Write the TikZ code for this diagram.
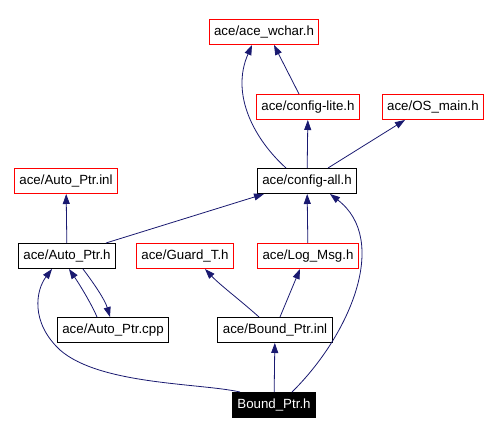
\documentclass[tikz,border=0pt]{standalone}
\usepackage{fontspec}
\setmainfont{Liberation Sans}
\usetikzlibrary{arrows.meta, positioning, calc}
\definecolor{dxred}{HTML}{FF0000}
\definecolor{dxnavy}{HTML}{191970}

\begin{document}
\begin{tikzpicture}[
  x=1pt, y=-1pt,
  every node/.style={font=\fontsize{13.3}{15}\selectfont},
  file/.style={rectangle, draw, line width=1pt, minimum height=25pt, inner xsep=5pt, inner ysep=0pt, align=center},
  ext/.style={file, draw=dxred},
  self/.style={file, fill=black, text=white},
  inc/.style={draw=dxnavy, line width=0.8pt, -{Triangle[length=10pt, width=7pt, fill=dxnavy]}},
]
\useasboundingbox (0,0) rectangle (490,435);

\node[ext] (wchar) at (264, 32) {ace/ace\_wchar.h};
\node[ext] (lite) at (308, 107) {ace/config-lite.h};
\node[ext] (osmain) at (433, 107) {ace/OS\_main.h};
\node[ext] (apinl) at (66, 181) {ace/Auto\_Ptr.inl};
\node[file] (all) at (307, 181) {ace/config-all.h};
\node[file] (aph) at (67, 256) {ace/Auto\_Ptr.h};
\node[ext] (guard) at (185, 256) {ace/Guard\_T.h};
\node[ext] (logmsg) at (308, 256) {ace/Log\_Msg.h};
\node[file] (apcpp) at (113, 330) {ace/Auto\_Ptr.cpp};
\node[file] (bpinl) at (275, 330) {ace/Bound\_Ptr.inl};
\node[self] (bph) at (274, 405) {Bound\_Ptr.h};

% Includes
\draw[inc] ([xshift=-21pt]all.north) .. controls (255,140) and (230,95) .. ([xshift=-12pt]wchar.south);
\draw[inc] ([xshift=-9pt]lite.north) -- ([xshift=10pt]wchar.south);
\draw[inc] (all) -- (lite);
\draw[inc] ([xshift=21pt]all.north) -- ([xshift=-28pt]osmain.south);
\draw[inc] (aph) -- (apinl);
\draw[inc] ([xshift=39pt]aph.north) -- ([xshift=-43pt]all.south);
\draw[inc] (logmsg) -- (all);
\draw[inc] ([xshift=18pt]bph.north) .. controls (350,335) and (390,240) .. ([xshift=23pt]all.south);
\draw[inc] ([xshift=-16pt]apcpp.north) .. controls (92,305) and (80,285) .. ([xshift=2pt]aph.south);
\draw[inc] ([xshift=16pt]aph.south) .. controls (95,285) and (105,300) .. ([xshift=-3pt]apcpp.north);
\draw[inc] ([xshift=-16pt]bpinl.north) .. controls (240,300) and (220,285) .. ([xshift=20pt]guard.south);
\draw[inc] ([xshift=5pt]bpinl.north) -- ([xshift=-8pt]logmsg.south);
\draw[inc] (bph) -- (bpinl);
\draw[inc] ([xshift=-34pt]bph.north) .. controls (200,383) and (100,385) .. (60,350)
  .. controls (30,322) and (36,290) .. ([xshift=-15pt]aph.south);
\end{tikzpicture}
\end{document}
